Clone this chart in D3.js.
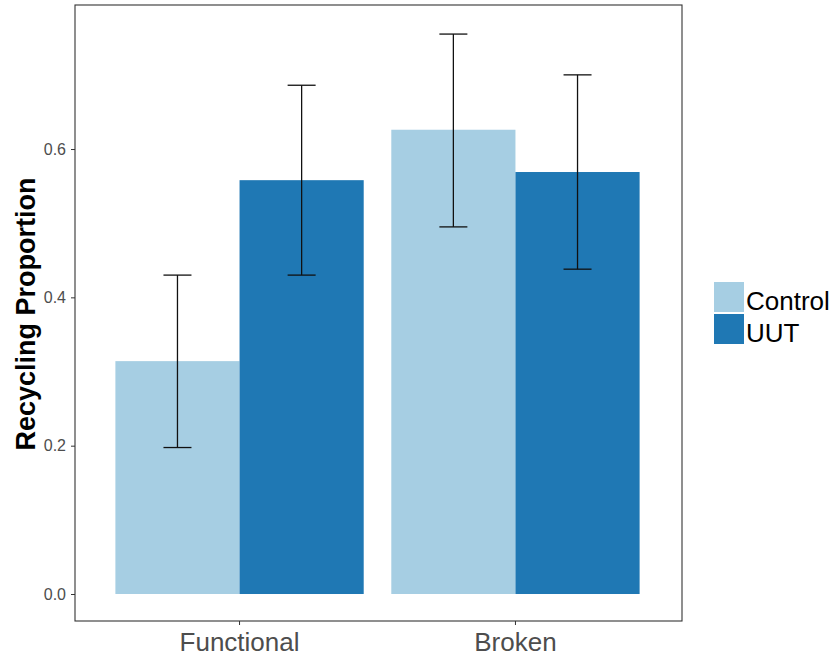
<!DOCTYPE html>
<html>
<head>
<script src="https://cdn.jsdelivr.net/npm/d3@7"></script>
<style>
  body { margin: 0; background: #fff; }
  svg text { font-family: "Liberation Sans", Arial, sans-serif; }
</style>
</head>
<body>
<svg id="chart" width="834" height="657"></svg>
<script>
// data
var categories = ["Functional", "Broken"];
var groups = ["Control", "UUT"];
var means = [[0.314, 0.558], [0.626, 0.569]];
var lower = [[0.1975, 0.430], [0.495, 0.438]];
var upper = [[0.430, 0.686], [0.755, 0.700]];
var yTicks = [0, 0.2, 0.4, 0.6];
var colours = ["#a6cee3", "#1f78b4"];

var panel = {left: 75, right: 682, top: 5, bottom: 621};
var svg = d3.select("#chart");

var x = d3.scaleBand().domain(categories)
    .range([panel.left - 1, panel.right - 1])
    .paddingInner(0.1).paddingOuter(0.15);
var xSub = d3.scaleBand().domain(groups).range([0, x.bandwidth()]);
var y = d3.scaleLinear().domain([-0.0364, 0.7942]).range([panel.bottom, panel.top]);
var colour = d3.scaleOrdinal().domain(groups).range(colours);

var rows = [];
categories.forEach(function(c, i) {
  groups.forEach(function(g, j) {
    rows.push({cat: c, grp: g, mean: means[i][j], lo: lower[i][j], hi: upper[i][j]});
  });
});

// bars
svg.append("g").selectAll("rect").data(rows).enter().append("rect")
  .attr("x", function(d) { return x(d.cat) + xSub(d.grp); })
  .attr("y", function(d) { return y(d.mean); })
  .attr("width", xSub.bandwidth())
  .attr("height", function(d) { return y(0) - y(d.mean); })
  .attr("fill", function(d) { return colour(d.grp); });

// error bars
var eb = svg.append("g").attr("stroke", "#111").attr("stroke-width", 1.3).attr("fill", "none");
rows.forEach(function(d) {
  var cx = x(d.cat) + xSub(d.grp) + xSub.bandwidth() / 2;
  eb.append("line").attr("x1", cx).attr("x2", cx).attr("y1", y(d.lo)).attr("y2", y(d.hi));
  eb.append("line").attr("x1", cx - 14).attr("x2", cx + 14).attr("y1", y(d.lo)).attr("y2", y(d.lo));
  eb.append("line").attr("x1", cx - 14).attr("x2", cx + 14).attr("y1", y(d.hi)).attr("y2", y(d.hi));
});

// panel border
svg.append("rect")
  .attr("x", panel.left).attr("y", panel.top)
  .attr("width", panel.right - panel.left).attr("height", panel.bottom - panel.top)
  .attr("fill", "none").attr("stroke", "#333").attr("stroke-width", 1.1);

// axes
var yAxis = d3.axisLeft(y).tickValues(yTicks).tickFormat(d3.format(".1f")).tickSize(4).tickPadding(5);
var gy = svg.append("g").attr("transform", "translate(" + panel.left + ",0)").call(yAxis);
gy.select(".domain").remove();
gy.selectAll("line").attr("stroke", "#333");
gy.selectAll("text").attr("fill", "#4d4d4d").style("font-size", "16px");

var xAxis = d3.axisBottom(x).tickSize(4).tickPadding(8);
var gx = svg.append("g").attr("transform", "translate(0," + panel.bottom + ")").call(xAxis);
gx.select(".domain").remove();
gx.selectAll("line").attr("stroke", "#333");
gx.selectAll("text").attr("fill", "#4d4d4d").style("font-size", "26px");

// y title
svg.append("text")
  .attr("transform", "translate(35,314) rotate(-90)")
  .attr("text-anchor", "middle")
  .style("font-size", "27px").style("font-weight", "bold")
  .attr("fill", "#000")
  .text("Recycling Proportion");

// legend
var legend = svg.append("g").attr("transform", "translate(714,282)");
groups.forEach(function(g, i) {
  var row = legend.append("g").attr("transform", "translate(0," + (i * 32) + ")");
  row.append("rect").attr("width", 30).attr("height", 30).attr("fill", colour(g));
  row.append("text").attr("x", 32).attr("y", 28)
    .style("font-size", "26px").attr("fill", "#000").text(g);
});
</script>
</body>
</html>
